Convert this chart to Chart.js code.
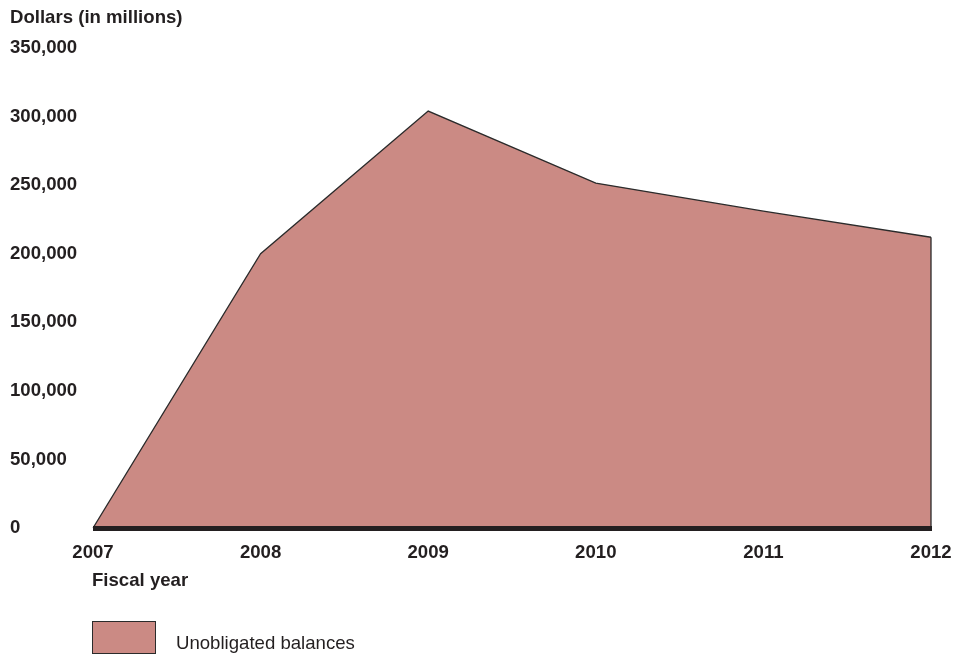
<!DOCTYPE html>
<html lang="en">
<head>
    <meta charset="UTF-8">
    <title>Unobligated balances</title>
    <script src="https://cdn.jsdelivr.net/npm/chart.js"></script>
    <style>
        body {
            margin: 0;
            background: #fff;
            font-family: "Liberation Sans", Arial, sans-serif;
            color: #231f20;
        }

        .wrap {
            position: relative;
            width: 967px;
            height: 654px;
        }

        .titulo {
            position: absolute;
            left: 10px;
            top: 6px;
            font-size: 18.6px;
            font-weight: bold;
        }

        .eixoX {
            position: absolute;
            left: 92px;
            top: 569px;
            font-size: 18.6px;
            font-weight: bold;
        }

        .legenda {
            position: absolute;
            left: 92px;
            top: 620px;
            display: flex;
            align-items: center;
            font-size: 18.6px;
        }

        .legenda span.caixa {
            display: inline-block;
            width: 62px;
            height: 31px;
            background: #cb8a84;
            border: 1px solid #2b2b2b;
            margin-right: 20px;
        }

        .legenda span.texto {
            margin-top: 12px;
        }
    </style>
</head>
<body>
    <div class="wrap">
        <canvas id="grafico" width="967" height="654"></canvas>
        <div class="titulo">Dollars (in millions)</div>
        <div class="eixoX">Fiscal year</div>
        <div class="legenda"><span class="caixa"></span><span class="texto">Unobligated balances</span></div>
    </div>

    <script>
    // dados
    var anos = ['2007', '2008', '2009', '2010', '2011', '2012'];
    var saldos = [0, 200000, 304000, 251500, 231000, 212000];
    var ticksY = [0, 50000, 100000, 150000, 200000, 250000, 300000, 350000];

    var fonte = "'Liberation Sans', Arial, sans-serif";

    // linha vertical no fim da area (2012 ate o eixo) e linha grossa do eixo x
    var bordaFinal = {
        id: 'bordaFinal',
        afterDatasetsDraw: function (chart) {
            var meta = chart.getDatasetMeta(0);
            var ultimo = meta.data[meta.data.length - 1];
            var zero = chart.scales.y.getPixelForValue(0);
            var area = chart.chartArea;
            var ctx = chart.ctx;
            ctx.save();
            ctx.strokeStyle = '#2b2b2b';
            ctx.lineWidth = 1.3;
            ctx.beginPath();
            ctx.moveTo(ultimo.x, ultimo.y);
            ctx.lineTo(ultimo.x, zero);
            ctx.stroke();
            // eixo x
            ctx.fillStyle = '#231f20';
            ctx.fillRect(area.left, zero - 2, area.right - area.left + 1, 5);
            ctx.restore();
        }
    };

    var ctx = document.getElementById('grafico').getContext('2d');
    var myChart = new Chart(ctx, {
        type: 'line',
        data: {
            labels: anos,
            datasets: [{
                label: 'Unobligated balances',
                data: saldos,
                fill: 'origin',
                backgroundColor: '#cb8a84',
                borderColor: '#2b2b2b',
                borderWidth: 1.3,
                pointRadius: 0,
                tension: 0
            }]
        },
        options: {
            responsive: false,
            animation: false,
            layout: {
                padding: { left: 10, right: 36, top: 48, bottom: 0 }
            },
            plugins: {
                legend: { display: false },
                tooltip: { enabled: false }
            },
            scales: {
                x: {
                    offset: false,
                    grid: { display: false, drawTicks: false },
                    border: { display: false },
                    ticks: {
                        color: '#231f20',
                        padding: 14,
                        maxRotation: 0,
                        font: { family: fonte, size: 18.6, weight: 'bold' }
                    },
                    afterFit: function (scale) {
                        scale.height = 126;
                    }
                },
                y: {
                    min: 0,
                    max: 350000,
                    afterBuildTicks: function (scale) {
                        scale.ticks = ticksY.map(function (v) { return { value: v }; });
                    },
                    grid: { display: false, drawTicks: false },
                    border: { display: false },
                    ticks: {
                        color: '#231f20',
                        crossAlign: 'far',
                        padding: 0,
                        font: { family: fonte, size: 18.6, weight: 'bold' },
                        callback: function (v) {
                            return v.toLocaleString('en-US');
                        }
                    },
                    afterFit: function (scale) {
                        scale.width = 83;
                    }
                }
            }
        },
        plugins: [bordaFinal]
    });
    </script>
</body>
</html>
